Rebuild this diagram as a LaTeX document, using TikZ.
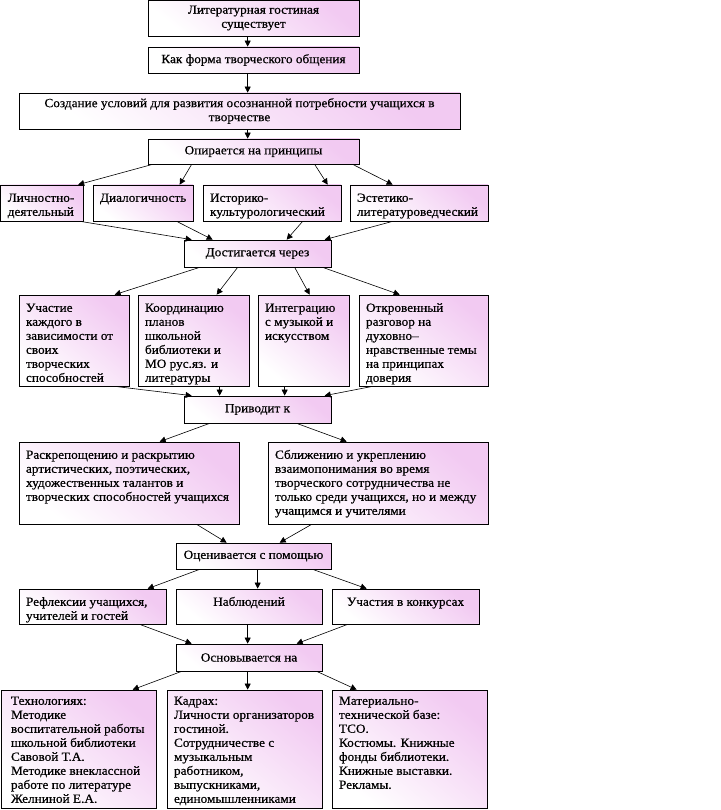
\documentclass[tikz,border=0pt]{standalone}
\usepackage{fontspec}
\setmainfont[FakeStretch=1.06,FakeBold=0.6]{Liberation Serif}
\usetikzlibrary{arrows.meta,shadows}
\definecolor{pk}{RGB}{242,202,242}
\newcommand\tbl[3]{\parbox[c][#2][t]{#1}{\vspace*{2pt}\begin{tabular}[t]{@{}l@{}}#3\end{tabular}}}
\newcommand\tbc[3]{\parbox[c][#2][t]{#1}{\vspace*{2pt}\centering\begin{tabular}[t]{@{}c@{}}#3\end{tabular}}}
\begin{document}
\begin{tikzpicture}[x=1pt,y=-1pt,
 bx/.style={draw=black, line width=0.7pt, top color=pk, bottom color=white, shading angle=-40,
   drop shadow={shadow xshift=1.2pt,shadow yshift=-1.2pt,fill=black!50,opacity=1},
   inner xsep=7pt, inner ysep=5pt, font=\fontsize{12.5}{14}\selectfont},
 cb/.style={bx, align=center},
 ar/.style={-{Triangle[length=6pt,width=6pt]}, line width=0.6pt}]
\useasboundingbox[fill=white] (0,0) rectangle (720,810);

% top chain
\node[cb, minimum width=211pt, minimum height=36pt] (b1) at (253.5,18) {Литературная гостиная\\существует};
\node[cb, minimum width=211pt, minimum height=26pt] (b2) at (253.5,60) {Как форма творческого общения};
\node[cb, minimum width=441pt, minimum height=36pt] (b3) at (239.5,111) {Создание условий для развития осознанной потребности учащихся в\\творчестве};
\node[cb, minimum width=211pt, minimum height=25pt] (b4) at (253.5,151.5) {Опирается на принципы};

% principles
\node[bx, minimum width=82.5pt, minimum height=36pt] (p1) at (41.75,203) {\tbl{68pt}{26pt}{Личностно-\\деятельный}};
\node[bx, minimum width=100pt, minimum height=36pt] (p2) at (143,203) {\tbl{86pt}{26pt}{Диалогичность}};
\node[bx, minimum width=138pt, minimum height=36pt] (p3) at (272,203) {\tbl{124pt}{26pt}{Историко-\\культурологический}};
\node[bx, minimum width=138pt, minimum height=36pt] (p4) at (419,203) {\tbl{124pt}{26pt}{Эстетико-\\литературоведческий}};

\node[cb, minimum width=147pt, minimum height=27pt] (d) at (257.5,253.5) {Достигается через};

% means
\node[bx, minimum width=110pt, minimum height=91pt] (r1) at (74,340.5) {\tbl{96pt}{81pt}{Участие\\каждого в\\зависимости от\\своих\\творческих\\способностей}};
\node[bx, minimum width=111pt, minimum height=91pt] (r2) at (193.5,340.5) {\tbl{97pt}{81pt}{Координацию\\планов\\школьной\\библиотеки и\\МО рус.яз. и\\литературы}};
\node[bx, minimum width=91pt, minimum height=91pt] (r3) at (303.5,340.5) {\tbl{77pt}{81pt}{Интеграцию\\с музыкой и\\искусством}};
\node[bx, minimum width=129pt, minimum height=91pt] (r4) at (423.5,340.5) {\tbl{115pt}{81pt}{Откровенный\\разговор на\\духовно–\\нравственные темы\\на принципах\\доверия}};

\node[cb, minimum width=147pt, minimum height=27pt] (pr) at (257.5,409.5) {Приводит к};

% results
\node[bx, minimum width=220pt, minimum height=82pt] (s1) at (129,483) {\tbl{206pt}{72pt}{Раскрепощению и раскрытию\\артистических, поэтических,\\художественных талантов и\\творческих способностей учащихся}};
\node[bx, minimum width=220pt, minimum height=82pt] (s2) at (378,483) {\tbl{206pt}{72pt}{Сближению и укреплению\\взаимопонимания во время\\творческого сотрудничества не\\только среди учащихся, но и между\\учащимся и учителями}};

\node[cb, minimum width=155pt, minimum height=26pt] (o) at (253.5,556) {Оценивается с помощью};

% evaluation
\node[bx, minimum width=147pt, minimum height=35pt] (t1) at (92.5,606.5) {\tbl{133pt}{25pt}{Рефлексии учащихся,\\учителей и гостей}};
\node[bx, minimum width=146pt, minimum height=35pt] (t2) at (249,606.5) {\tbc{132pt}{25pt}{Наблюдений}};
\node[bx, minimum width=147pt, minimum height=35pt] (t3) at (405.5,606.5) {\tbc{133pt}{25pt}{Участия в конкурсах}};

\node[cb, minimum width=146pt, minimum height=27pt] (os) at (249,657.5) {Основывается на};

% bases
\begin{scope}[every node/.append style={font=\fontsize{12.5}{13.5}\selectfont}]
\node[bx, inner ysep=3pt, minimum width=155pt, minimum height=118pt] (u1) at (78.5,749) {\tbl{141pt}{112pt}{\hspace*{3pt}Технологиях:\\\hspace*{3pt}Методике\\\hspace*{3pt}воспитательной работы\\\hspace*{3pt}школьной библиотеки\\\hspace*{3pt}Савовой Т.А.\\\hspace*{3pt}Методике внеклассной\\\hspace*{3pt}работе по литературе\\\hspace*{3pt}Желниной Е.А.}};
\node[bx, inner ysep=3pt, minimum width=155pt, minimum height=118pt] (u2) at (244.5,749) {\tbl{141pt}{112pt}{Кадрах:\\Личности организаторов\\гостиной.\\Сотрудничестве с\\музыкальным\\работником,\\выпускниками,\\единомышленниками}};
\node[bx, inner ysep=3pt, minimum width=155pt, minimum height=118pt] (u3) at (409.5,749) {\tbl{141pt}{112pt}{Материально-\\технической базе:\\ТСО.\\Костюмы. Книжные\\фонды библиотеки.\\Книжные выставки.\\Рекламы.}};
\end{scope}

% connectors
\draw[ar] ([xshift=100pt]b1.south west) -- ([xshift=100pt]b2.north west);
\draw[ar] ([xshift=100pt]b2.south west) -- ([xshift=229pt]b3.north west);
\draw[ar] ([xshift=229pt]b3.south west) -- ([xshift=100pt]b4.north west);

\draw[ar] ([xshift=5pt]b4.south west) -- ([xshift=78pt]p1.north west);
\draw[ar] ([xshift=44pt]b4.south west) -- ([xshift=87pt]p2.north west);
\draw[ar] ([xshift=167pt]b4.south west) -- ([xshift=125pt]p3.north west);
\draw[ar] ([xshift=205pt]b4.south west) -- ([xshift=43pt]p4.north west);

\draw[ar] ([xshift=80pt]p1.south west) -- ([xshift=8pt]d.north west);
\draw[ar] ([xshift=84pt]p2.south west) -- ([xshift=29pt]d.north west);
\draw[ar] ([xshift=100pt]p3.south west) -- ([xshift=103pt]d.north west);
\draw[ar] ([xshift=43pt]p4.south west) -- ([xshift=141pt]d.north west);

\draw[ar] ([xshift=16pt]d.south west) -- ([xshift=96pt]r1.north west);
\draw[ar] ([xshift=54pt]d.south west) -- ([xshift=79pt]r2.north west);
\draw[ar] ([xshift=111pt]d.south west) -- ([xshift=52pt]r3.north west);
\draw[ar] ([xshift=139pt]d.south west) -- ([xshift=41pt]r4.north west);

\draw[ar] ([xshift=96pt]r1.south west) -- ([xshift=8pt]pr.north west);
\draw[ar] ([xshift=82pt]r2.south west) -- ([xshift=36pt]pr.north west);
\draw[ar] ([xshift=27pt]r3.south west) -- ([xshift=101pt]pr.north west);
\draw[ar] ([xshift=14pt]r4.south west) -- ([xshift=141pt]pr.north west);

\draw[ar] ([xshift=26pt]pr.south west) -- ([xshift=141pt]s1.north west);
\draw[ar] ([xshift=113pt]pr.south west) -- ([xshift=79pt]s2.north west);

\draw[ar] ([xshift=178pt]s1.south west) -- ([xshift=51pt]o.north west);
\draw[ar] ([xshift=44pt]s2.south west) -- ([xshift=104pt]o.north west);

\draw[ar] ([xshift=24pt]o.south west) -- ([xshift=129pt]t1.north west);
\draw[ar] ([xshift=82pt]o.south west) -- ([xshift=82pt]t2.north west);
\draw[ar] ([xshift=137pt]o.south west) -- ([xshift=35pt]t3.north west);

\draw[ar] ([xshift=121pt]t1.south west) -- ([xshift=16pt]os.north west);
\draw[ar] ([xshift=72pt]t2.south west) -- ([xshift=72pt]os.north west);
\draw[ar] ([xshift=16pt]t3.south west) -- ([xshift=121pt]os.north west);

\draw[ar] ([xshift=6pt]os.south west) -- ([xshift=132pt]u1.north west);
\draw[ar] ([xshift=72pt]os.south west) -- ([xshift=81pt]u2.north west);
\draw[ar] ([xshift=141pt]os.south west) -- ([xshift=25pt]u3.north west);
\end{tikzpicture}
\end{document}
